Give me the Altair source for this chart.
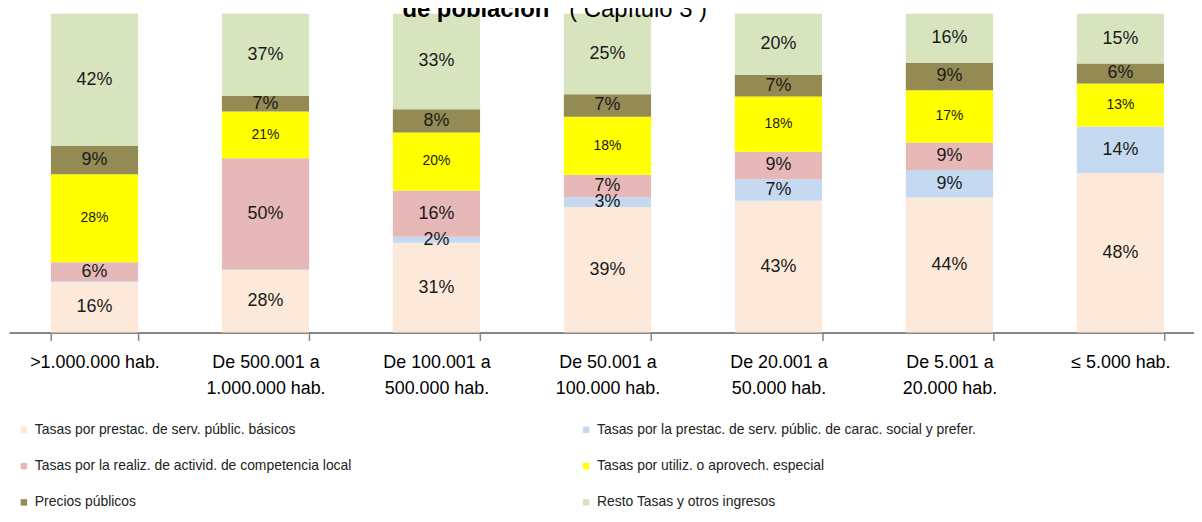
import altair as alt
import pandas as pd

FONT = "Liberation Sans, Arial, sans-serif"

categories = [">1.000.000 hab.", "De 500.001 a\n1.000.000 hab.", "De 100.001 a\n500.000 hab.",
              "De 50.001 a\n100.000 hab.", "De 20.001 a\n50.000 hab.", "De 5.001 a\n20.000 hab.",
              "≤ 5.000 hab."]
series = ["Tasas por prestac. de serv. públic. básicos",
          "Tasas por la prestac. de serv. públic. de carac. social y prefer.",
          "Tasas por la realiz. de activid. de competencia local",
          "Tasas por utiliz. o aprovech. especial",
          "Precios públicos",
          "Resto Tasas y otros ingresos"]
colors = ["#FDE9D9", "#C5D9F1", "#E6B9B8", "#FFFF00", "#948A54", "#D7E4BD"]

basicos = [16, 28, 31, 39, 43, 44, 48]
social = [0.3, 0.3, 2, 3, 7, 9, 14]
realiz = [6, 50, 16, 7, 9, 9, 0]
utiliz = [28, 21, 20, 18, 18, 17, 13]
precios = [9, 7, 8, 7, 7, 9, 6]
resto = [42, 37, 33, 25, 20, 16, 15]

title_bold = "de población"
title_rest = "( Capítulo 3 )"

values = [basicos, social, realiz, utiliz, precios, resto]
rows = []
for ci, c in enumerate(categories):
    for si, s in enumerate(series):
        rows.append({"cat": c, "serie": s, "ord": si, "value": values[si][ci]})
df = pd.DataFrame(rows)

# legend is filled column by column: order entries so rows read as in the reference
legend_order = [0, 2, 4, 1, 3, 5]
legend_domain = [series[i] for i in legend_order]
legend_range = [colors[i] for i in legend_order]

base = alt.Chart(df).transform_stack(
    stack="value", groupby=["cat"], as_=["y0", "y1"], offset="normalize",
    sort=[alt.SortField("ord", order="ascending")]
)

xenc = alt.X("cat:N", sort=categories,
             scale=alt.Scale(range=[0, 1205], paddingInner=0.49, paddingOuter=0.245),
             axis=alt.Axis(title=None, labelAngle=0, labelFont=FONT, labelFontSize=18,
                           labelColor="#000000", labelPadding=13, labelLineHeight=26,
                           labelExpr="isValid(datum.value) ? split(datum.value, '\\n') : ''",
                           domainColor="#868686", domainWidth=2,
                           tickColor="#868686", tickWidth=1.5, tickSize=8,
                           tickBand="extent"))

bars = base.mark_bar().encode(
    x=xenc,
    y=alt.Y("y0:Q", scale=alt.Scale(domain=[0, 1]), axis=None),
    y2="y1:Q",
    color=alt.Color("serie:N", scale=alt.Scale(domain=legend_domain, range=legend_range),
                    legend=alt.Legend(title=None, orient="none", legendX=8, legendY=412,
                                      columns=2, columnPadding=228, rowPadding=22.5,
                                      gridAlign="each", padding=0,
                                      symbolType="square", symbolSize=42,
                                      symbolStrokeWidth=0, labelOffset=4,
                                      labelFont=FONT, labelFontSize=14,
                                      labelColor="#222222", labelLimit=800)),
)

texts = base.transform_filter("datum.value >= 1").transform_calculate(
    mid="(datum.y0 + datum.y1) / 2",
    lbl="format(datum.value, 'd') + '%'"
).mark_text(font=FONT, color="#1a1a1a", baseline="middle").encode(
    x=alt.X("cat:N", sort=categories),
    y=alt.Y("mid:Q"),
    text="lbl:N",
    size=alt.condition(alt.datum.ord == 3, alt.value(14), alt.value(18)),
)

t1 = alt.Chart(pd.DataFrame({"t": [title_bold]})).mark_text(
    font=FONT, fontSize=24, fontWeight="bold", align="right", baseline="alphabetic", color="#000000"
).encode(text="t:N", x=alt.value(544), y=alt.value(3))
t2 = alt.Chart(pd.DataFrame({"t": [title_rest]})).mark_text(
    font=FONT, fontSize=24, align="left", baseline="alphabetic", color="#000000"
).encode(text="t:N", x=alt.value(564), y=alt.value(3))

chart = alt.layer(bars, texts, t1, t2).properties(
    width=1193, height=321,
    autosize=alt.AutoSizeParams(type="none"),
    padding={"left": 1, "top": 4, "right": 0, "bottom": 179},
    background="white",
).configure_view(stroke=None)

chart.save("out.html", embed_options={"renderer": "svg", "actions": False})
